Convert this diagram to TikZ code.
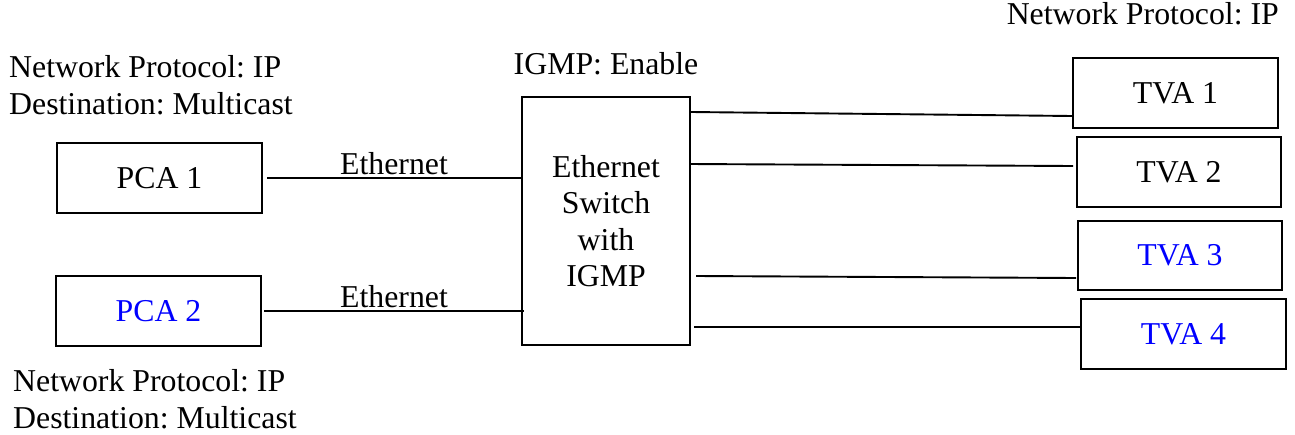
\documentclass[tikz,border=0pt]{standalone}
\usepackage{fontspec}
\setmainfont{Liberation Serif}
\usepackage{tikz}
\usetikzlibrary{calc,positioning}
\frenchspacing
\definecolor{tvblue}{RGB}{0,0,255}
\tikzset{% boxes and wires
	box/.style={draw,line width=2pt,minimum width=205pt,minimum height=70pt,inner sep=0pt},
	link/.style={line width=1.9pt},
	note/.style={align=left,inner sep=0pt},
	lbl/.style={inner sep=0pt,anchor=base}
}

\begin{document}
\begin{tikzpicture}[x=1pt,y=-1pt,font=\fontsize{31.8pt}{36.3pt}\selectfont]
\useasboundingbox (0,0) rectangle (1295,434);
\node[box] (pca1) at (159.5,178) {PCA 1};
\node[box,text=tvblue] (pca2) at (158.5,311) {PCA 2};
\node[box,minimum width=168pt,minimum height=248pt,align=center] (sw) at (606,221) {Ethernet\\Switch\\with\\IGMP};
\node[box] (tva1) at (1175.5,93) {TVA 1};
\node[box,minimum width=204pt] (tva2) at (1179,172) {TVA 2};
\node[box,minimum width=204pt,minimum height=69pt,text=tvblue] (tva3) at (1180,255.5) {TVA 3};
\node[box,text=tvblue] (tva4) at (1183.5,334) {TVA 4};

\node[lbl] (igmp) at ([yshift=22pt]sw.north) {IGMP: Enable};
\node[note,anchor=base east] (tvnote) at ([yshift=33pt]tva1.north east) {Network Protocol: IP};
% base of a two-line note is its last line
\node[note,anchor=base west] (pcnote1) at ([xshift=-47pt,yshift=28pt]pca1.north west) {Network Protocol: IP\\Destination: Multicast};
\node[note,anchor=base west] (pcnote2) at ([xshift=-42pt,yshift=-81pt]pca2.south west) {Network Protocol: IP\\Destination: Multicast};

\draw[link] ([xshift=4pt]pca1.east) -- (pca1.east -| sw.west) node[lbl,midway,yshift=4pt] (eth1) {Ethernet};
\draw[link] ([xshift=2pt]pca2.east) -- ([xshift=3pt]pca2.east -| sw.west) node[lbl,midway,yshift=4pt] (eth2) {Ethernet};
\draw[link] ([yshift=-16pt]sw.north east) -- ([yshift=-23pt]tva1.west);
\draw[link] ([xshift=-2pt,yshift=-68pt]sw.north east) -- ([xshift=-3pt,yshift=6pt]tva2.west);
\draw[link] ([xshift=5pt,yshift=-55pt]sw.east) -- ([xshift=-1pt,yshift=-22.5pt]tva3.west);
\draw[link] ([xshift=3pt,yshift=-106pt]sw.east) -- ([yshift=7pt]tva4.west);
\end{tikzpicture}
\end{document}
